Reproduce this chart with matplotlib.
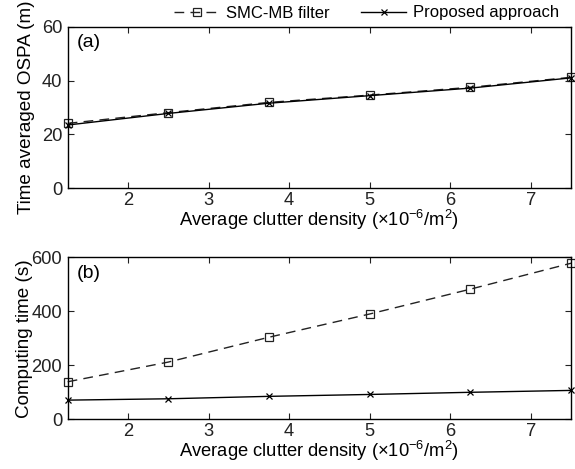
import matplotlib
matplotlib.use("Agg")
import matplotlib.pyplot as plt

plt.rcParams['font.family'] = ['Liberation Sans', 'DejaVu Sans']
plt.rcParams['mathtext.fontset'] = 'custom'
plt.rcParams['mathtext.rm'] = 'Liberation Sans'

clutter = [1.25, 2.5, 3.75, 5.0, 6.25, 7.5]
ospa_smc = [24.1, 28.1, 31.9, 34.6, 37.5, 41.2]
ospa_prop = [23.5, 27.8, 31.6, 34.4, 37.2, 41.0]
time_smc = [139, 212, 304, 390, 482, 578]
time_prop = [71, 76, 85, 92, 100, 107]
xticks = [2, 3, 4, 5, 6, 7]
yticks_a = [0, 20, 40, 60]
yticks_b = [0, 200, 400, 600]
xlabel = 'Average clutter density (×10$^{-6}$/m$^{2}$)'

W, H = 575, 469
fig = plt.figure(figsize=(W/100, H/100), dpi=100)
L, R = 67.7/W, 571/W
ax1 = fig.add_axes([L, 1-188.3/H, R-L, (188.3-26.7)/H])
ax2 = fig.add_axes([L, 1-419.3/H, R-L, (419.3-257.3)/H])

fs = 13.2
for ax, ys, yp, yt, yl, tag, lx in [
    (ax1, ospa_smc, ospa_prop, yticks_a, 'Time averaged OSPA (m)', '(a)', -0.065),
    (ax2, time_smc, time_prop, yticks_b, 'Computing time (s)', '(b)', -0.068)]:
    l1, = ax.plot(clutter, ys, color='#222222', lw=1.0, dashes=(7, 4.5),
                  marker='s', ms=6, mfc='none', mec='#222222', mew=0.9,
                  label='SMC-MB filter')
    l2, = ax.plot(clutter, yp, color='black', lw=1.0, marker='x', ms=5,
                  mew=0.9, label='Proposed approach')
    for l in (l1, l2):
        l.set_clip_on(False)
    ax.set_xlim(1.25, 7.5)
    ax.set_ylim(yt[0], yt[-1])
    ax.set_xticks(xticks)
    ax.set_yticks(yt)
    ax.tick_params(direction='in', length=4.5, width=0.8, top=True, right=True,
                   labelsize=fs, colors='#222222')
    ax.tick_params(axis='y', pad=4)
    ax.tick_params(axis='x', pad=3)
    for s in ax.spines.values():
        s.set_linewidth(1.0)
    ax.set_xlabel(xlabel, fontsize=fs, labelpad=-1)
    ax.set_ylabel(yl, fontsize=13.6)
    ax.yaxis.set_label_coords(lx, 0.5)
    ax.text(0.017, 0.9, tag, transform=ax.transAxes, fontsize=14,
            va='center', ha='left')

h, lab = ax1.get_legend_handles_labels()
fig.legend(h, lab, loc='center right', bbox_to_anchor=(559/W, 1-13/H),
           ncol=2, frameon=False, fontsize=12, handlelength=2.7,
           handletextpad=0.4, columnspacing=1.9, borderpad=0, borderaxespad=0)

fig.savefig('out.png', dpi=100)
